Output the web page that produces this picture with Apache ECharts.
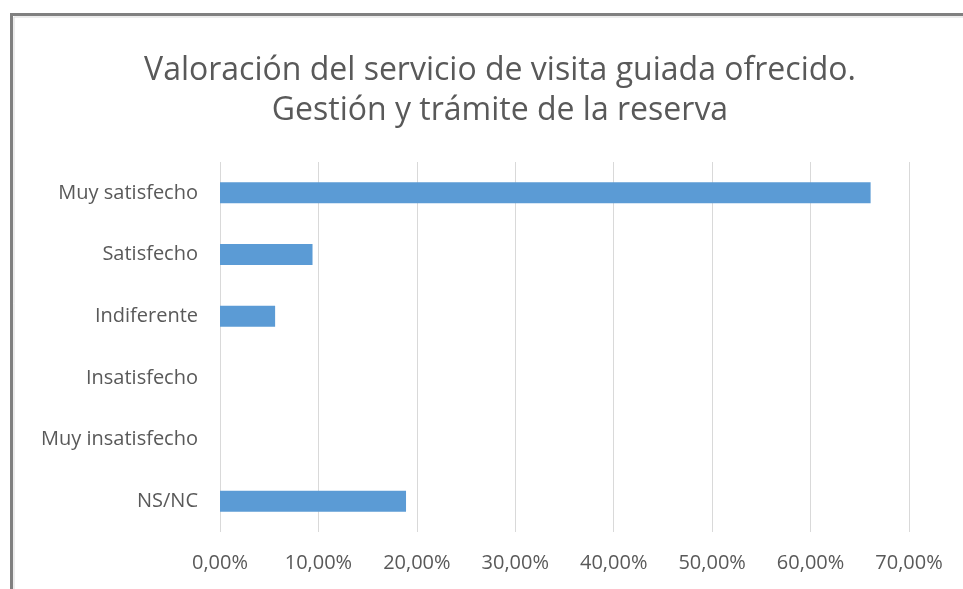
<!DOCTYPE html>
<html>
<head>
<meta charset="utf-8">
<script src="https://cdn.jsdelivr.net/npm/echarts@6/dist/echarts.min.js"></script>
<style>
html, body { margin: 0; padding: 0; background: #fff; }
#chart { width: 963px; height: 589px; }
</style>
</head>
<body>
<div id="chart"></div>
<script>
var categories = ["Muy satisfecho", "Satisfecho", "Indiferente", "Insatisfecho", "Muy insatisfecho", "NS/NC"];
var values = [66.1, 9.4, 5.6, 0, 0, 18.9];
var tickMax = 70;
var tickStep = 10;

var font = "Open Sans";
var chart = echarts.init(document.getElementById("chart"));

chart.setOption({
    animation: false,
    title: {
        text: "Valoración del servicio de visita guiada ofrecido.\nGestión y trámite de la reserva",
        left: 495,
        textAlign: "center",
        top: 46,
        textStyle: {
            fontFamily: font,
            fontSize: 32,
            fontWeight: "normal",
            color: "#595959",
            lineHeight: 40
        }
    },
    graphic: [{
        type: "rect",
        shape: { x: 11.5, y: 14.5, width: 1000, height: 700 },
        style: { fill: "none", stroke: "#808080", lineWidth: 3 },
        silent: true
    }, {
        type: "rect",
        shape: { x: 14, y: 17, width: 1000, height: 700 },
        style: { fill: "none", stroke: "#d9d9d9", lineWidth: 1 },
        silent: true
    }],
    grid: {
        left: 220,
        right: 54,
        top: 162,
        bottom: 57,
        containLabel: false
    },
    xAxis: {
        type: "value",
        min: 0,
        max: tickMax,
        interval: tickStep,
        axisLine: { show: false },
        axisTick: { show: false },
        splitLine: { lineStyle: { color: "#d9d9d9", width: 1 } },
        axisLabel: {
            margin: 21,
            fontFamily: font,
            fontSize: 20,
            color: "#595959",
            formatter: function (v) { return v.toFixed(2).replace(".", ",") + "%"; }
        }
    },
    yAxis: {
        type: "category",
        data: categories,
        inverse: true,
        axisLine: { show: false },
        axisTick: { show: false },
        axisLabel: {
            margin: 22,
            fontFamily: font,
            fontSize: 20,
            color: "#595959"
        }
    },
    series: [{
        type: "bar",
        data: values,
        barWidth: 21,
        itemStyle: { color: "#5b9bd5" }
    }]
});
</script>
</body>
</html>
